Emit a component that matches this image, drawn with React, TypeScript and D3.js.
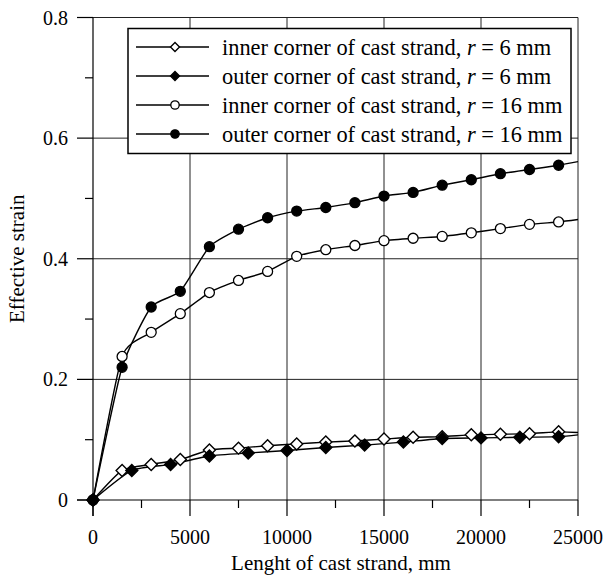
import React from 'react';
import * as d3 from 'd3';

// Positions along the cast strand (mm)
const xStep1500 = [0, 1500, 3000, 4500, 6000, 7500, 9000, 10500, 12000, 13500, 15000, 16500, 18000, 19500, 21000, 22500, 24000, 25000];
const xStep2000 = [0, 2000, 4000, 6000, 8000, 10000, 12000, 14000, 16000, 18000, 20000, 22000, 24000, 25000];

// Effective strain values per series
const inner6 = [0, 0.049, 0.059, 0.067, 0.083, 0.086, 0.09, 0.093, 0.096, 0.098, 0.101, 0.104, 0.105, 0.108, 0.109, 0.11, 0.113, 0.112];
const outer6 = [0, 0.049, 0.059, 0.073, 0.078, 0.082, 0.087, 0.091, 0.096, 0.102, 0.103, 0.104, 0.105, 0.108];
const inner16 = [0, 0.238, 0.278, 0.309, 0.344, 0.364, 0.379, 0.404, 0.415, 0.422, 0.43, 0.434, 0.437, 0.443, 0.45, 0.457, 0.461, 0.465];
const outer16 = [0, 0.22, 0.32, 0.346, 0.42, 0.449, 0.468, 0.479, 0.485, 0.493, 0.504, 0.51, 0.522, 0.531, 0.541, 0.548, 0.555, 0.561];

const seriesLabels = [
  'inner corner of cast strand, ',
  'outer corner of cast strand, ',
  'inner corner of cast strand, ',
  'outer corner of cast strand, ',
];
const seriesRadius = ['6', '6', '16', '16'];

const xTicks = [0, 5000, 10000, 15000, 20000, 25000];
const xMinorTicks = [2500, 7500, 12500, 17500, 22500];
const yTicks = [0, 0.2, 0.4, 0.6, 0.8];
const yMinorTicks = [0.1, 0.3, 0.5, 0.7];

const W = 607;
const H = 577;
const left = 93;
const right = 578;
const top = 17.5;
const bottom = 500;

const FONT = "'Liberation Serif', 'Times New Roman', 'DejaVu Serif', serif";

type Marker = 'diamondOpen' | 'diamondFilled' | 'circleOpen' | 'circleFilled';

function MarkerShape({ kind, cx, cy, size }: { kind: Marker; cx: number; cy: number; size: number }) {
  if (kind === 'diamondOpen' || kind === 'diamondFilled') {
    const s = size;
    const d = `M${cx},${cy - s} L${cx + s},${cy} L${cx},${cy + s} L${cx - s},${cy} Z`;
    return (
      <path
        d={d}
        fill={kind === 'diamondFilled' ? '#000' : '#fff'}
        stroke="#000"
        strokeWidth={1.4}
      />
    );
  }
  return (
    <circle
      cx={cx}
      cy={cy}
      r={size}
      fill={kind === 'circleFilled' ? '#000' : '#fff'}
      stroke="#000"
      strokeWidth={1.3}
    />
  );
}

const textStyle = { fontFamily: FONT };

export default function App() {
  const x = d3.scaleLinear().domain([0, 25000]).range([left, right]);
  const y = d3.scaleLinear().domain([0, 0.8]).range([bottom, top]);

  const series: { xs: number[]; ys: number[]; marker: Marker; size: number }[] = [
    { xs: xStep1500, ys: inner6, marker: 'diamondOpen', size: 6 },
    { xs: xStep2000, ys: outer6, marker: 'diamondFilled', size: 6 },
    { xs: xStep1500, ys: inner16, marker: 'circleOpen', size: 5 },
    { xs: xStep1500, ys: outer16, marker: 'circleFilled', size: 5 },
  ];

  const line = d3
    .line<[number, number]>()
    .x((d) => x(d[0]))
    .y((d) => y(d[1]))
    .curve(d3.curveCardinal.tension(0.45));

  const legendRows = [47, 76, 105, 134];

  return (
    <svg
      width={W}
      height={H}
      style={{ position: 'absolute', left: 0, top: 0, background: '#fff' }}
    >
      <defs>
        <clipPath id="plot-clip">
          <rect x={left} y={top} width={right - left} height={bottom - top} />
        </clipPath>
      </defs>
      <rect x={0} y={0} width={W} height={H} fill="#fff" />

      {/* grid */}
      {yTicks.filter((t) => t > 0).map((t) => (
        <line key={`gy${t}`} x1={left} x2={right} y1={y(t)} y2={y(t)} stroke="#222" strokeWidth={1} />
      ))}
      {xTicks.filter((t) => t > 0).map((t) => (
        <line key={`gx${t}`} x1={x(t)} x2={x(t)} y1={top} y2={bottom} stroke="#222" strokeWidth={1} />
      ))}

      {/* axes */}
      <line x1={left} x2={left} y1={top} y2={bottom + 16} stroke="#000" strokeWidth={1.2} />
      <line x1={left - 16} x2={right} y1={bottom} y2={bottom} stroke="#000" strokeWidth={1.2} />
      {yTicks.map((t) => (
        <line key={`ty${t}`} x1={left - 16} x2={left} y1={y(t)} y2={y(t)} stroke="#000" strokeWidth={1.2} />
      ))}
      {yMinorTicks.map((t) => (
        <line key={`tym${t}`} x1={left - 8} x2={left} y1={y(t)} y2={y(t)} stroke="#000" strokeWidth={1.2} />
      ))}
      {xTicks.map((t) => (
        <line key={`tx${t}`} x1={x(t)} x2={x(t)} y1={bottom} y2={bottom + 16} stroke="#000" strokeWidth={1.2} />
      ))}
      {xMinorTicks.map((t) => (
        <line key={`txm${t}`} x1={x(t)} x2={x(t)} y1={bottom} y2={bottom + 8} stroke="#000" strokeWidth={1.2} />
      ))}

      {/* tick labels */}
      {yTicks.map((t) => (
        <text key={`ly${t}`} x={68} y={y(t)} dy="0.35em" textAnchor="end" fontSize={20} fill="#000" style={textStyle}>
          {t === 0 ? '0' : t.toFixed(1)}
        </text>
      ))}
      {xTicks.map((t) => (
        <text key={`lx${t}`} x={x(t)} y={544} textAnchor="middle" fontSize={20} fill="#000" style={textStyle}>
          {String(t)}
        </text>
      ))}

      {/* axis titles */}
      <text x={341} y={570} textAnchor="middle" fontSize={21} fill="#000" style={textStyle}>
        Lenght of cast strand, mm
      </text>
      <text
        transform={`translate(24,${(top + bottom) / 2}) rotate(-90)`}
        textAnchor="middle"
        fontSize={21}
        fill="#000"
        style={textStyle}
      >
        Effective strain
      </text>

      {/* curves */}
      <g clipPath="url(#plot-clip)">
        {series.map((s, i) => (
          <path
            key={`c${i}`}
            d={line(s.xs.map((v, j) => [v, s.ys[j]] as [number, number])) || ''}
            fill="none"
            stroke="#000"
            strokeWidth={1.4}
          />
        ))}
      </g>
      {series.map((s, i) => (
        <g key={`m${i}`}>
          {s.xs.map((v, j) =>
            v < 25000 ? (
              <MarkerShape key={j} kind={s.marker} cx={x(v)} cy={y(s.ys[j])} size={s.size} />
            ) : null
          )}
        </g>
      ))}

      {/* legend */}
      <rect x={128} y={28.5} width={443} height={125} fill="#fff" stroke="#000" strokeWidth={1.5} />
      {series.map((s, i) => (
        <g key={`lg${i}`}>
          <line x1={136} x2={209} y1={legendRows[i]} y2={legendRows[i]} stroke="#000" strokeWidth={1.4} />
          <MarkerShape kind={s.marker} cx={175} cy={legendRows[i]} size={s.marker.startsWith('diamond') ? 4.5 : 4.2} />
          <text x={222} y={legendRows[i]} dy="0.35em" fontSize={22.4} fill="#000" style={textStyle}>
            {seriesLabels[i]}
            <tspan fontStyle="italic">r</tspan>
            {` = ${seriesRadius[i]} mm`}
          </text>
        </g>
      ))}
    </svg>
  );
}
